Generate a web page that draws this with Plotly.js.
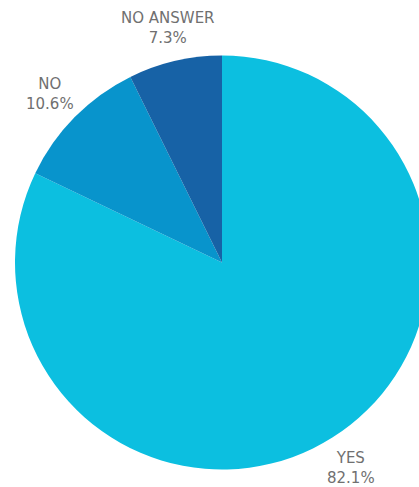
<!DOCTYPE html>
<html>
<head>
<meta charset="utf-8">
<script src="https://cdn.plot.ly/plotly-3.0.1.min.js"></script>
<style>html,body{margin:0;padding:0;overflow:hidden;background:#fff;width:419px;height:487px;}</style>
</head>
<body>
<div id="chart" style="width:430px;height:487px;"></div>
<script>
const labels = ["YES", "NO", "NO ANSWER"];
const values = [82.1, 10.6, 7.3];
const colors = ["#0CBFE0", "#0894CC", "#1762A6"];

const labelPos = [
  {x: 351, y: 468},
  {x: 50, y: 94},
  {x: 168, y: 28}
];

const W = 430, H = 487;
const M = {l: 15, r: 1, t: 55, b: 17};
const PW = W - M.l - M.r, PH = H - M.t - M.b;
const annotations = labels.map((l, i) => ({
  text: l + "<br>" + values[i].toFixed(1) + "%",
  x: (labelPos[i].x - M.l) / PW,
  y: 1 - (labelPos[i].y - M.t) / PH,
  xref: "paper", yref: "paper",
  xanchor: "center", yanchor: "middle",
  showarrow: false,
  font: {family: "DejaVu Sans, sans-serif", size: 15, color: "#707070"}
}));

Plotly.newPlot("chart", [{
  type: "pie",
  labels: labels,
  values: values,
  marker: {colors: colors, line: {width: 0}},
  sort: false,
  direction: "clockwise",
  rotation: 0,
  textinfo: "none",
  hoverinfo: "label+percent",
  showlegend: false
}], {
  width: W, height: H,
  margin: M,
  paper_bgcolor: "#fff",
  annotations: annotations
}, {displayModeBar: false, staticPlot: true});
</script>
</body>
</html>
